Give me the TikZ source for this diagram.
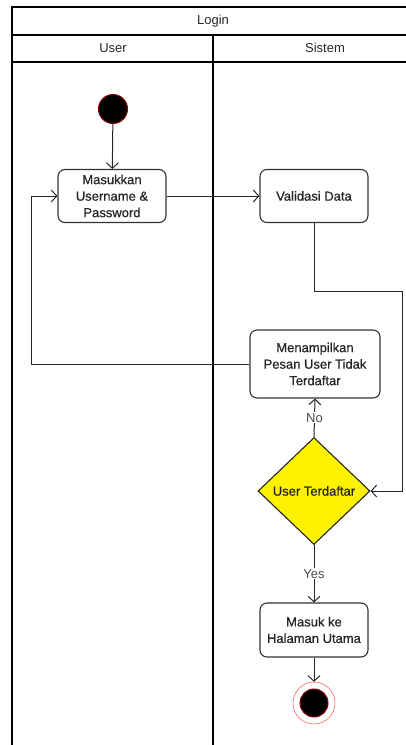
\documentclass[tikz,border=0pt]{standalone}
\usepackage{fontspec}
\setmainfont{Liberation Sans}
\newfontfamily\actfont[FakeBold=0.6]{Liberation Sans}
\usetikzlibrary{arrows.meta,shapes.geometric}

\begin{document}
\begin{tikzpicture}[
  x=1pt, y=-1pt,
  >={Straight Barb[length=5.5pt,width=12pt]},
  every node/.style={font=\fontsize{13}{16.5}\selectfont, text=black!85},
  act/.style={draw=black!80, line width=1.1pt, rounded corners=7pt, minimum width=108pt, minimum height=53pt, align=center, inner sep=2pt, fill=white, font=\actfont\fontsize{13}{16.5}\selectfont},
  decision/.style={diamond, draw=black!85, line width=1.1pt, fill=yellow, minimum width=112pt, minimum height=107pt, inner sep=0pt, font=\actfont\fontsize{13}{16.5}\selectfont},
  startdot/.style={circle, fill=black, draw=red!55!black, line width=1pt, minimum size=29pt, inner sep=0pt},
  enddot/.style={circle, draw=red!80, fill=white, minimum size=42pt, inner sep=0pt,
    path picture={\filldraw[fill=black, draw=red!55!black, line width=1pt] (path picture bounding box.center) circle (14pt);}},
  flow/.style={->, draw=black!85, line width=1pt},
  guard/.style={fill=white, inner sep=1pt, text=black!70},
  lane/.style={draw=black, line width=1.3pt}
]
\useasboundingbox (0,0) rectangle (406,745);
\clip (0,0) rectangle (406,745);

% swimlanes
\draw[lane] (12,7) rectangle (437,760);
\draw[lane] (12,35) -- (437,35);
\draw[lane] (12,62) -- (437,62);
\draw[lane] (213,35) -- (213,760);
\node (title) at (213,21) {Login};
\node (user) at (113,48) {User};
\node (sistem) at (325,48) {Sistem};

% activities
\node[startdot] (start) at (113,109) {};
\node[act] (input) at (112,196) {Masukkan\\Username \&\\Password};
\node[act] (valid) at (314,196) {Validasi Data};
\node[act, minimum width=130pt, minimum height=68pt] (msg) at (315,364) {Menampilkan\\Pesan User Tidak\\Terdaftar};
\node[decision] (cek) at (314,491) {User Terdaftar};
\node[act, minimum height=54pt] (home) at (314,630) {Masuk ke\\Halaman Utama};
\node[enddot] (stop) at (314,703) {};

\coordinate (loopR) at (402,291);
\coordinate (loopL) at (31,364);

% flows
\draw[flow] (start) -- (input);
\draw[flow] (input) -- (valid);
\draw[flow] (valid.south) |- (loopR) |- (cek.east);
\draw[flow] (msg.west) -- (loopL) |- (input.west);
\draw[flow] (cek.north) -- node[guard] {No} (msg.south);
\draw[flow] (cek.south) -- node[guard] {Yes} (home.north);
\draw[flow] (home) -- (stop);
\end{tikzpicture}
\end{document}
